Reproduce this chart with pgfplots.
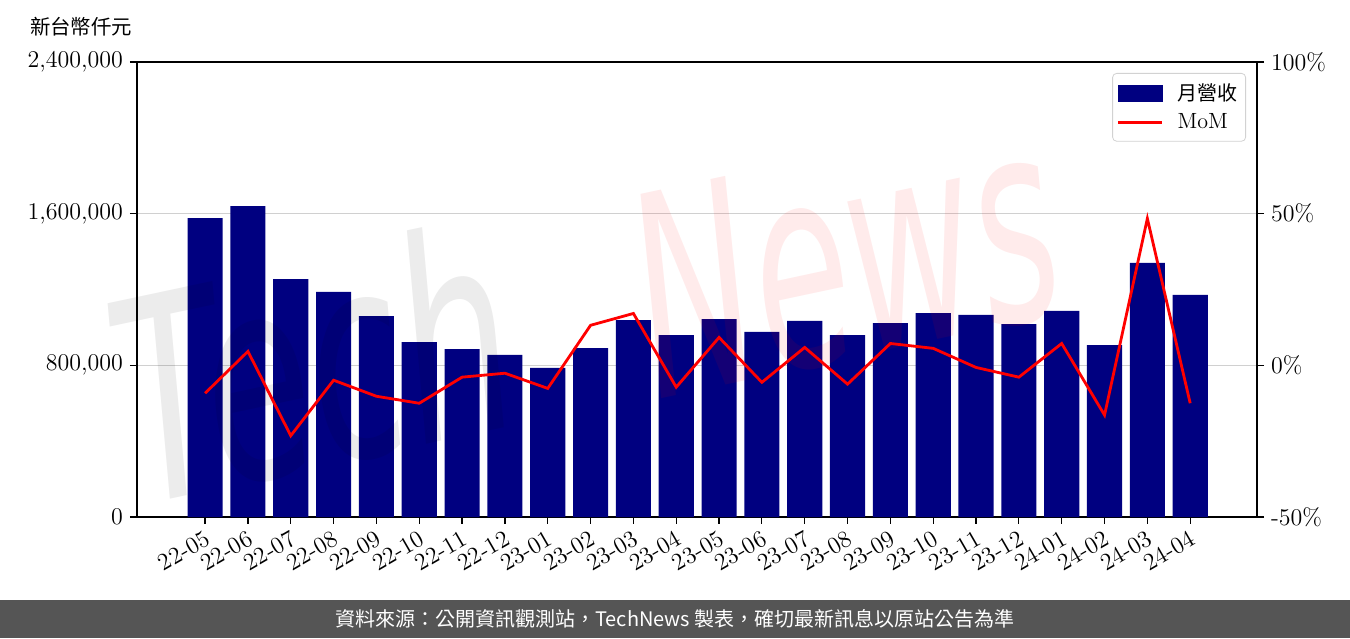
\documentclass[border=0pt]{standalone}
\usepackage{fontspec}
\usepackage{pgfplots}
\usepackage{pgfplotstable}
\pgfplotsset{compat=1.18}
\newfontfamily\cjk{Noto Sans CJK TC}
\newfontfamily\wm{DejaVu Sans}
\definecolor{navy}{HTML}{000080}
\definecolor{footer}{HTML}{555555}
\definecolor{gridc}{HTML}{D0D0D0}

\pgfplotstableread{
x rev mom
0 1577000 -9.2
1 1640000 4.6
2 1255000 -23.2
3 1187000 -4.9
4 1060000 -10.2
5 923000 -12.5
6 886000 -3.9
7 855000 -2.6
8 786000 -7.6
9 891000 13.2
10 1039000 17.1
11 960000 -7.2
12 1044000 9.2
13 976000 -5.6
14 1034000 5.9
15 960000 -6.2
16 1023000 7.2
17 1076000 5.6
18 1066000 -0.7
19 1018000 -3.9
20 1087000 7.2
21 907000 -16.4
22 1340000 48.4
23 1171000 -12.5
}\data

\pgfplotsset{
  common/.style={
    at={(68.5pt,60.5pt)}, anchor=south west,
    width=560pt, height=227.5pt, scale only axis,
    xmin=-1.59, xmax=24.56,
    tick align=outside,
    major tick length=3.5pt,
    tick style={black, line width=0.6pt},
    axis line style={black, line width=0.9pt},
    ticklabel style={font=\fontsize{12}{14}\selectfont},
  }
}

\begin{document}
\begin{tikzpicture}[x=1pt,y=1pt]
\path[use as bounding box] (0,0) rectangle (675,319);
\fill[footer] (0,0) rectangle (675,19);
\node[white, font=\cjk\fontsize{10}{12}\selectfont] at (337.5,9.7) {資料來源：公開資訊觀測站，TechNews 製表，確切最新訊息以原站公告為準};
\node[font=\cjk\fontsize{10.2}{12}\selectfont] at (40.5,305.5) {新台幣仟元};

\begin{axis}[common,
  ymin=0, ymax=2400000,
  scaled y ticks=false,
  xtick={0,...,23},
  xticklabels={22-05,22-06,22-07,22-08,22-09,22-10,22-11,22-12,23-01,23-02,23-03,23-04,23-05,23-06,23-07,23-08,23-09,23-10,23-11,23-12,24-01,24-02,24-03,24-04},
  xticklabel style={rotate=30, anchor=north east, inner sep=2pt},
  ytick={0,800000,1600000,2400000},
  yticklabels={0,{800,000},{1,600,000},{2,400,000}},
  xtick pos=bottom, ytick pos=left,
  ymajorgrids, grid style={gridc, line width=0.8pt},
]
\addplot[ybar, bar width=0.82, fill=navy, draw=none] table[x=x,y=rev]{\data};
\end{axis}

\node[rotate=12, xscale=0.62, anchor=base west, text=black, opacity=0.075,
  font=\wm\itshape\fontsize{140}{140}\selectfont] at (68,66) {Tech};
\node[rotate=12, xscale=0.56, anchor=base west, text=red, opacity=0.08,
  font=\wm\itshape\fontsize{140}{140}\selectfont] at (327,119) {News};

\begin{axis}[common,
  ymin=-50, ymax=100,
  axis y line*=right, axis x line=none,
  ytick={-50,0,50,100},
  yticklabels={-50\%,0\%,50\%,100\%},
  legend style={at={(1,1)}, anchor=north east, xshift=-5.5pt, yshift=-5.5pt,
    draw=gray!35, rounded corners=2pt, fill=white, fill opacity=0.8, text opacity=1,
    font=\fontsize{11}{13}\selectfont, row sep=1pt, column sep=5pt, inner xsep=2pt, inner ysep=3pt},
  legend cell align=left,
]
\addlegendimage{legend image code/.code={\fill[navy, sharp corners, fill opacity=1] (0pt,-4pt) rectangle (22pt,4pt);}}
\addlegendentry{\cjk\fontsize{10}{12}\selectfont 月營收}
\addplot[red, line width=1.4pt, legend image code/.code={\draw[red, line width=1.5pt, sharp corners, draw opacity=1] (0pt,0pt) -- (22pt,0pt);}] table[x=x,y=mom]{\data};
\addlegendentry{MoM}
\end{axis}
\end{tikzpicture}
\end{document}
